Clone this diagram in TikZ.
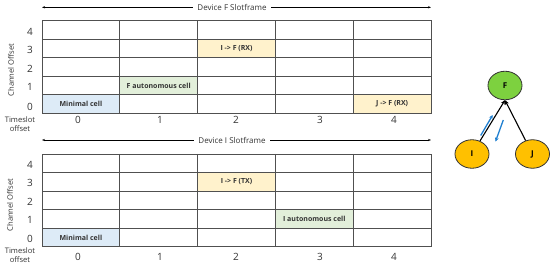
\documentclass[tikz,border=0pt]{standalone}
\usepackage{fontspec}
\setmainfont{Open Sans}
\usetikzlibrary{arrows.meta,shapes.geometric}
\definecolor{cblue}{HTML}{DDEBF7}
\definecolor{cgreen}{HTML}{E2EFDA}
\definecolor{cyellow}{HTML}{FFF2CC}
\definecolor{gridc}{HTML}{505050}
\definecolor{fgreen}{HTML}{7DD13F}
\definecolor{iorange}{HTML}{FFC000}
\definecolor{arrblue}{HTML}{1F7FD0}
\definecolor{txtc}{HTML}{333333}
\begin{document}
\begin{tikzpicture}[x=1pt,y=-1pt,
  cellbox/.style={minimum width=77.8pt, minimum height=18.5pt, inner sep=0pt,
    font=\fontsize{7}{8}\selectfont\bfseries, text=txtc},
  gridline/.style={draw=gridc, line width=0.8pt},
  numlbl/.style={font=\fontsize{10}{11}\selectfont, text=txtc, inner sep=0pt},
  smalllbl/.style={font=\fontsize{7.6}{8.6}\selectfont, text=txtc, inner sep=0pt},
  hdrline/.style={draw=black, line width=0.5pt, {Stealth[length=3pt,width=2.2pt]}-{Stealth[length=3pt,width=2.2pt]}},
  hdrlbl/.style={font=\fontsize{8}{9}\selectfont, text=txtc, fill=white, inner xsep=4pt, inner ysep=1pt},
  devnode/.style={ellipse, draw=black!80, line width=0.8pt, minimum width=34pt, minimum height=28.5pt, inner sep=0pt, font=\fontsize{8}{9}\selectfont\bfseries},
  link/.style={draw=black, line width=1.1pt, -{Stealth[length=4.5pt,width=4pt]}},
  bluearrow/.style={draw=arrblue, line width=1.3pt, -{Stealth[length=4pt,width=3.8pt]}}
]
\useasboundingbox (0,0) rectangle (550,267);

% ---------- top slotframe ----------
\coordinate (tl) at (42,7.3);
\coordinate (tr) at (431,7.3);
\draw[hdrline] (tl) -- (tr);
\node[hdrlbl] (thdr) at (232,7.3) {Device F Slotframe};

\node[cellbox, fill=cblue]   (tmin)  at (80.9,104.04) {Minimal cell};
\node[cellbox, fill=cgreen]  (tfaut) at (158.7,85.5) {F autonomous cell};
\node[cellbox, fill=cyellow] (tif)   at (236.5,48.48) {I -> F (RX)};
\node[cellbox, fill=cyellow] (tjf)   at (392.1,104.04) {J -> F (RX)};

\draw[gridline] (42,20.7) rectangle (431,113.3);
\foreach \yy in {39.22,57.74,76.26,94.78} \draw[gridline] (42,\yy) -- (431,\yy);
\foreach \xx in {119.8,197.6,275.4,353.2} \draw[gridline] (\xx,20.7) -- (\xx,113.3);

\foreach \n/\yy in {4/31.5,3/49.5,2/68.5,1/87,0/106.5}
  \node[numlbl] (trow\n) at (30,\yy) {\n};
\foreach \n/\xx in {0/78,1/160,2/236,3/320,4/394}
  \node[numlbl] (tcol\n) at (\xx,119.5) {\n};
\node[smalllbl, rotate=90] (tchan) at (11,70) {Channel Offset};
\node[smalllbl, align=center] (tts) at (20,124) {Timeslot\\offset};

% ---------- bottom slotframe ----------
\coordinate (bl) at (42,140);
\coordinate (br) at (431,140);
\draw[hdrline] (bl) -- (br);
\node[hdrlbl] (bhdr) at (232,140) {Device I Slotframe};

\node[cellbox, fill=cblue]   (bmin)  at (80.9,237.4) {Minimal cell};
\node[cellbox, fill=cyellow] (bif)   at (236.5,181.8) {I -> F (TX)};
\node[cellbox, fill=cgreen]  (biaut) at (314.3,218.9) {I autonomous cell};

\draw[gridline] (42,154) rectangle (431,246.7);
\foreach \yy in {172.54,191.08,209.62,228.16} \draw[gridline] (42,\yy) -- (431,\yy);
\foreach \xx in {119.8,197.6,275.4,353.2} \draw[gridline] (\xx,154) -- (\xx,246.7);

\foreach \n/\yy in {4/165,3/182.7,2/201.5,1/220,0/239.3}
  \node[numlbl] (brow\n) at (30,\yy) {\n};
\foreach \n/\xx in {0/78,1/160,2/236,3/320,4/394}
  \node[numlbl] (bcol\n) at (\xx,256.5) {\n};
\node[smalllbl, rotate=90] (bchan) at (10,205) {Channel Offset};
\node[smalllbl, align=center] (bts) at (20,255) {Timeslot\\offset};

% ---------- topology ----------
\node[devnode, fill=fgreen]  (F) at (505,85.5) {F};
\node[devnode, fill=iorange] (I) at (472,154) {I};
\node[devnode, fill=iorange] (J) at (532.5,154) {J};
\draw[link] (I) -- (F.south);
\draw[link] (J) -- (F.south);
\coordinate (u1) at (480.7,135.5);
\coordinate (u2) at (492.7,115);
\coordinate (d1) at (503.3,120);
\coordinate (d2) at (495.5,141.5);
\draw[bluearrow] (u1) -- (u2);
\draw[bluearrow] (d1) -- (d2);
\end{tikzpicture}
\end{document}
